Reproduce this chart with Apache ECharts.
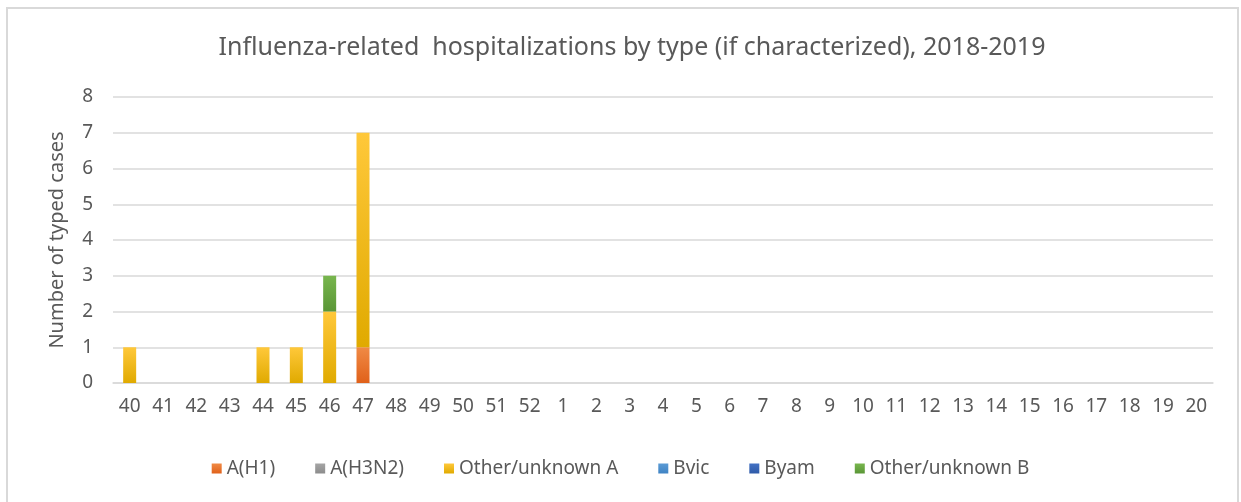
<!DOCTYPE html>
<html>
<head>
<meta charset="utf-8">
<script src="https://cdn.jsdelivr.net/npm/echarts@6/dist/echarts.min.js"></script>
<style>
  html, body { margin: 0; padding: 0; background: #fff; }
  #frame {
    position: absolute; left: 6px; top: 7px; width: 1233px; height: 500px;
    border: 2px solid #d9d9d9; box-sizing: border-box;
  }
  #chart { position: absolute; left: 0; top: 0; width: 1241px; height: 502px; }
</style>
</head>
<body>
<div id="frame"></div>
<div id="chart"></div>
<script>
// weeks of the 2018-2019 season
const weeks = ["40","41","42","43","44","45","46","47","48","49","50","51","52",
  "1","2","3","4","5","6","7","8","9","10","11","12","13","14","15","16","17","18","19","20"];

// typed cases per week
const aH1      = [0,0,0,0,0,0,0,1,0,0,0,0,0,0,0,0,0,0,0,0,0,0,0,0,0,0,0,0,0,0,0,0,0];
const aH3N2    = [0,0,0,0,0,0,0,0,0,0,0,0,0,0,0,0,0,0,0,0,0,0,0,0,0,0,0,0,0,0,0,0,0];
const otherA   = [1,0,0,0,1,1,2,6,0,0,0,0,0,0,0,0,0,0,0,0,0,0,0,0,0,0,0,0,0,0,0,0,0];
const bVic     = [0,0,0,0,0,0,0,0,0,0,0,0,0,0,0,0,0,0,0,0,0,0,0,0,0,0,0,0,0,0,0,0,0];
const bYam     = [0,0,0,0,0,0,0,0,0,0,0,0,0,0,0,0,0,0,0,0,0,0,0,0,0,0,0,0,0,0,0,0,0];
const otherB   = [0,0,0,0,0,0,1,0,0,0,0,0,0,0,0,0,0,0,0,0,0,0,0,0,0,0,0,0,0,0,0,0,0];

const seriesNames = ["A(H1)", "A(H3N2)", "Other/unknown A", "Bvic", "Byam", "Other/unknown B"];
const seriesData = [aH1, aH3N2, otherA, bVic, bYam, otherB];
const seriesColors = ["#f08a45", "#a5a5a5", "#ffc83a", "#5b9bd5", "#4472c4", "#78b64e"];
const seriesDark = ["#e0611a", "#8c8c8c", "#e0aa00", "#3f83c4", "#2f5aa8", "#5a9636"];

const font = "Noto Sans";
const textColor = "#595959";

const chart = echarts.init(document.getElementById("chart"));
chart.setOption({
  animation: false,
  title: {
    text: "Influenza-related  hospitalizations by type (if characterized), 2018-2019",
    left: 627,
    textAlign: "center",
    top: 30,
    textStyle: { fontFamily: font, fontSize: 25, fontWeight: "normal", color: textColor }
  },
  legend: {
    bottom: 19,
    left: "center",
    itemWidth: 10,
    itemHeight: 10,
    itemGap: 40,
    icon: "rect",
    textStyle: { fontFamily: font, fontSize: 19, color: textColor },
    data: seriesNames
  },
  grid: { left: 113, right: 28, top: 97, bottom: 119 },
  xAxis: {
    type: "category",
    data: weeks,
    axisLine: { lineStyle: { color: "#d9d9d9", width: 1.5 } },
    axisTick: { show: false },
    axisLabel: { fontFamily: font, fontSize: 19, color: textColor, margin: 14, interval: 0 }
  },
  yAxis: {
    type: "value",
    min: 0,
    max: 8,
    interval: 1,
    name: "Number of typed cases",
    nameLocation: "middle",
    nameGap: 46,
    nameTextStyle: { fontFamily: font, fontSize: 20, color: textColor },
    axisLine: { show: false },
    axisTick: { show: false },
    axisLabel: { fontFamily: font, fontSize: 19, color: textColor, margin: 20 },
    splitLine: { lineStyle: { color: "#d9d9d9", width: 1.5 } }
  },
  series: seriesData.map((d, i) => ({
    name: seriesNames[i],
    type: "bar",
    stack: "total",
    barWidth: 13,
    data: d,
    itemStyle: {
      color: new echarts.graphic.LinearGradient(0, 0, 0, 1, [
        { offset: 0, color: seriesColors[i] },
        { offset: 1, color: seriesDark[i] }
      ])
    }
  }))
});
</script>
</body>
</html>
